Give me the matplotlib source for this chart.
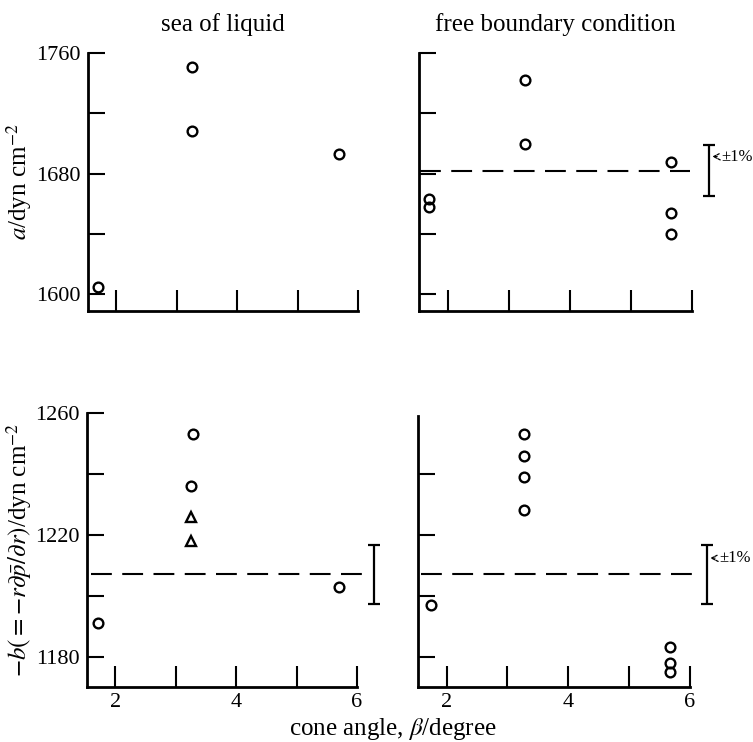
import matplotlib
matplotlib.use("Agg")
import matplotlib.pyplot as plt
import numpy as np

plt.rcParams['font.family'] = ['Liberation Serif', 'DejaVu Serif']
plt.rcParams['mathtext.fontset'] = 'stix'

# ---- data ----
# top row: a / dyn cm^-2
a_sea_x = [1.70, 3.25, 3.25, 5.68]
a_sea_y = [1605, 1751, 1708, 1693]

a_free_x = [1.70, 1.70, 3.26, 3.26, 5.65, 5.65, 5.65]
a_free_y = [1663, 1658, 1742, 1700, 1688, 1654, 1640]
a_free_mean = 1682

# bottom row: -b / dyn cm^-2
b_sea_circ_x = [1.72, 3.28, 3.25, 5.70]
b_sea_circ_y = [1191, 1253, 1236, 1203]
b_sea_tri_x = [3.25, 3.25]
b_sea_tri_y = [1226, 1218]
b_sea_mean = 1207

b_free_x = [1.74, 3.27, 3.27, 3.27, 3.27, 5.67, 5.67, 5.67]
b_free_y = [1197, 1253, 1246, 1239, 1228, 1183, 1178, 1175]
b_free_mean = 1207

titles = ["sea of liquid", "free boundary condition"]
xticks_major = [2, 4, 6]
xticks_minor = [3, 5]
a_ticks_major = [1600, 1680, 1760]
a_ticks_minor = [1640, 1720]
b_ticks_major = [1180, 1220, 1260]
b_ticks_minor = [1200, 1240]

W, H = 753, 742
fig = plt.figure(figsize=(W / 100, H / 100), dpi=100)

def ax_px(x0, x1, y0, y1):
    return fig.add_axes([x0 / W, 1 - y1 / H, (x1 - x0) / W, (y1 - y0) / H])

ax_tl = ax_px(88, 358, 53, 311)
ax_tr = ax_px(419, 692, 53, 311)
ax_bl = ax_px(87, 357, 413, 687)
ax_br = ax_px(418, 690, 416, 687)

FS = 16
FL = 18

for ax in (ax_tl, ax_tr, ax_bl, ax_br):
    ax.spines['top'].set_visible(False)
    ax.spines['right'].set_visible(False)
    ax.spines['left'].set_linewidth(2)
    ax.spines['bottom'].set_linewidth(2)
    ax.set_xlim(1.53, 6.0)
    ax.set_xticks(xticks_major)
    ax.set_xticks(xticks_minor, minor=True)
    ax.tick_params(axis='x', which='both', direction='in', length=15, width=1.5, pad=4)
    ax.tick_params(axis='y', which='both', direction='in', length=12, width=1.5, pad=5)
    ax.tick_params(labelsize=FS)
    ax.patch.set_alpha(0)

for ax in (ax_tl, ax_tr):
    ax.set_ylim(1589, 1760)
    ax.set_yticks(a_ticks_major)
    ax.set_yticks(a_ticks_minor, minor=True)
    ax.tick_params(axis='x', labelbottom=False)
for ax in (ax_bl, ax_br):
    ax.set_ylim(1170, 1260)
    ax.set_yticks(b_ticks_major)
    ax.set_yticks(b_ticks_minor, minor=True)
for ax in (ax_tr, ax_br):
    ax.tick_params(axis='y', labelleft=False)
ax_br.set_ylim(1170, 1259)

mk = dict(linestyle='none', marker='o', mfc='none', mec='black', mew=1.7, ms=7, clip_on=False)

ax_tl.plot(a_sea_x, a_sea_y, **mk)
ax_tr.plot(a_free_x, a_free_y, **mk)
ax_bl.plot(b_sea_circ_x, b_sea_circ_y, **mk)
ax_bl.plot(b_sea_tri_x, b_sea_tri_y, **dict(mk, marker='^', ms=6.5))
ax_br.plot(b_free_x, b_free_y, **mk)

dash = dict(color='black', lw=1.5, dashes=(10, 5), clip_on=False)
ax_tr.plot([1.55, 5.97], [a_free_mean] * 2, **dash)
ax_bl.plot([1.6, 6.08], [b_sea_mean] * 2, **dash)
ax_br.plot([1.58, 6.13], [b_free_mean] * 2, **dash)

def errbar(ax, x, y, half, label):
    ax.errorbar([x], [y], yerr=[half], fmt='none', ecolor='black',
                elinewidth=1.6, capsize=4, capthick=1.6, clip_on=False)
    if label:
        ax.annotate("±1%", xy=(x + 0.05, y + half * 0.55), xytext=(x + 0.2, y + half * 0.55),
                    fontsize=12, va='center', ha='left', annotation_clip=False,
                    arrowprops=dict(arrowstyle='->', lw=0.9, color='black',
                                    shrinkA=1, shrinkB=0, linestyle=(0, (2, 1))))

errbar(ax_tr, 6.28, a_free_mean, 17, True)
errbar(ax_bl, 6.28, b_sea_mean, 9.7, False)
errbar(ax_br, 6.28, b_free_mean, 9.7, True)

ax_tl.set_title(titles[0], fontsize=FL, pad=16)
ax_tr.set_title(titles[1], fontsize=FL, pad=16)

ax_tl.set_ylabel(r"$a$/dyn cm$^{-2}$", fontsize=FL)
ax_bl.set_ylabel(r"$-b(=-r\partial\bar{p}/\partial r)$/dyn cm$^{-2}$", fontsize=FL)
ax_tl.yaxis.set_label_coords(-0.2, 0.5)
ax_bl.yaxis.set_label_coords(-0.195, 0.5)

fig.text(393 / W, 1 - 729 / H, r"cone angle, $\beta$/degree", fontsize=FL, ha='center', va='center')

fig.savefig("out.png", dpi=100)
